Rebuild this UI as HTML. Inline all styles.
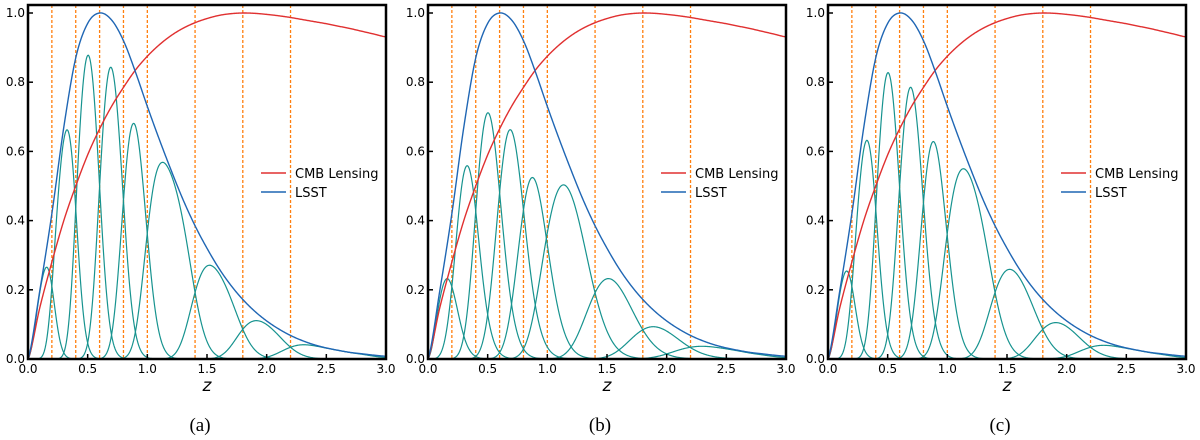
<!DOCTYPE html>
<html><head><meta charset="utf-8"><style>
body{margin:0;background:#fff;width:1200px;height:440px;overflow:hidden}
svg{position:absolute;left:0;top:0}
</style></head><body>
<svg id="chart" width="1200" height="440"></svg>
<script>
const zGrid=[0,0.1,0.2,0.3,0.4,0.5,0.6,0.7,0.8,0.9,1.0,1.1,1.2,1.3,1.4,1.5,1.6,1.7,1.8,1.9,2.0,2.1,2.2,2.3,2.4,2.5,2.6,2.7,2.8,2.9,3.0];
const lsstValues=[0,0.20,0.42,0.67,0.87,0.97,1.0,0.98,0.92,0.83,0.73,0.635,0.545,0.46,0.385,0.32,0.262,0.213,0.172,0.138,0.11,0.087,0.068,0.053,0.041,0.032,0.025,0.019,0.015,0.011,0.008];
const cmbValues=[0,0.15,0.28,0.40,0.50,0.59,0.665,0.73,0.785,0.835,0.875,0.908,0.935,0.956,0.972,0.984,0.993,0.998,1.0,0.999,0.996,0.992,0.987,0.981,0.975,0.969,0.962,0.955,0.947,0.939,0.931];
const binEdges=[0,0.2,0.4,0.6,0.8,1.0,1.4,1.8,2.2,3.0];
const panelLabels=["(a)","(b)","(c)"];
const panelSigma=[0.04,0.06,0.046];
const xTicks=["0.0","0.5","1.0","1.5","2.0","2.5","3.0"];
const yTicks=["0.0","0.2","0.4","0.6","0.8","1.0"];
const NS="http://www.w3.org/2000/svg";
const svg=document.getElementById('chart');
const SANS='font-family:"DejaVu Sans","Liberation Sans",sans-serif';
function mk(t,a,p){const e=document.createElementNS(NS,t);for(const k in a)e.setAttribute(k,a[k]);(p||svg).appendChild(e);return e;}
function interp(vals,z){const h=0.1;let i=Math.min(Math.floor(z/h),vals.length-2);if(i<0)i=0;const t=(z-zGrid[i])/h;
 const p0=vals[Math.max(i-1,0)],p1=vals[i],p2=vals[i+1],p3=vals[Math.min(i+2,vals.length-1)];
 const m1=(p2-p0)/2,m2=(p3-p1)/2,t2=t*t,t3=t2*t;
 return Math.max(0,(2*t3-3*t2+1)*p1+(t3-2*t2+t)*m1+(-2*t3+3*t2)*p2+(t3-t2)*m2);}
function erf(x){const s=x<0?-1:1;x=Math.abs(x);const t=1/(1+0.3275911*x);
 const y=1-(((((1.061405429*t-1.453152027)*t)+1.421413741)*t-0.284496736)*t+0.254829592)*t*Math.exp(-x*x);return s*y;}
const Y0=359,Y1=13,W=358;
panelLabels.forEach((lab,p)=>{
 const L=28+400*p;
 const g=mk('g',{});
 
 
 const xs=z=>L+z/3*W, ys=v=>Y0-v*(Y0-Y1);
 binEdges.slice(1,-1).forEach(e=>{const l=mk('line',{x1:xs(e),x2:xs(e),y1:5,y2:Y0,stroke:'#ff7f0e','stroke-width':1.3,'stroke-dasharray':'3,2'},g);
  });
 const path=f=>{let d='';for(let z=0;z<=3.0001;z+=0.005){d+=(d?'L':'M')+xs(z).toFixed(2)+','+ys(f(z)).toFixed(2);}return d;};
 const sg=panelSigma[p];
 for(let b=0;b<binEdges.length-1;b++){const lo=binEdges[b],hi=binEdges[b+1];
  const f=z=>{const s=sg*(1+z)*Math.SQRT2;return interp(lsstValues,z)*0.5*(erf((z-lo)/s)-erf((z-hi)/s));};
  const el=mk('path',{d:path(f),fill:'none',stroke:'#17938f','stroke-width':1.2},g);
  }
 const c=mk('path',{d:path(z=>interp(cmbValues,z)),fill:'none',stroke:'#e03030','stroke-width':1.4},g);
 
 const l2=mk('path',{d:path(z=>interp(lsstValues,z)),fill:'none',stroke:'#1f66b4','stroke-width':1.4},g);
 
 const fr=mk('rect',{x:L,y:5,width:W,height:Y0-5,fill:'none',stroke:'#000','stroke-width':2.5},g);
 
 xTicks.forEach(t=>{const x=xs(+t);mk('line',{x1:x,x2:x,y1:Y0,y2:Y0-5,stroke:'#000','stroke-width':1.5},g);
  const tx=mk('text',{x:x,y:Y0+14,'font-size':12,'text-anchor':'middle',style:SANS},g);tx.textContent=t;
  });
 yTicks.forEach(t=>{const y=ys(+t);mk('line',{x1:L,x2:L+5,y1:y,y2:y,stroke:'#000','stroke-width':1.5},g);
  const tx=mk('text',{x:L-3,y:y+4,'font-size':12,'text-anchor':'end',style:SANS},g);tx.textContent=t;
  });
 const xt=mk('text',{x:L+179,y:391,'font-size':17,'font-style':'italic','text-anchor':'middle',style:SANS},g);xt.textContent='z';
 
 [['CMB Lensing','#e03030',173],['LSST','#1f66b4',192]].forEach(([n,col,y])=>{
  const lg=mk('g',{},g);
  mk('line',{x1:L+233,x2:L+258,y1:y,y2:y,stroke:col,'stroke-width':1.5},lg);
  const t=mk('text',{x:L+267,y:y+5,'font-size':13,style:SANS},lg);t.textContent=n;});
 const pl=mk('text',{x:L+172,y:431,'font-size':19,'text-anchor':'middle',style:'font-family:"Liberation Serif",serif'},g);
 pl.textContent=lab;
});
</script>
</body></html>
